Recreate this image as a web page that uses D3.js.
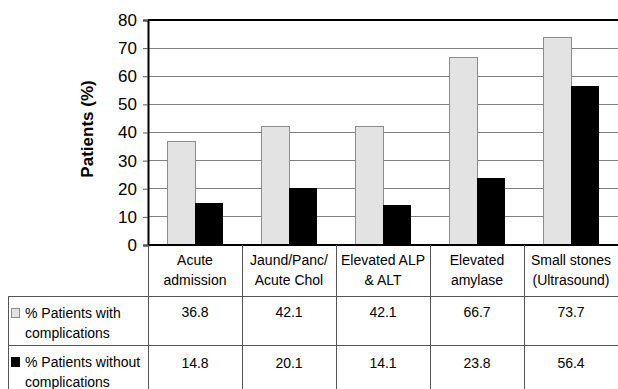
<!DOCTYPE html>
<html>
<head>
<meta charset="utf-8">
<script src="https://cdn.jsdelivr.net/npm/d3@7/dist/d3.min.js"></script>
<style>
  html, body { margin: 0; padding: 0; background: #fff; }
  svg { display: block; font-family: "Liberation Sans", Arial, sans-serif; }
</style>
</head>
<body>
<svg id="chart" width="618" height="389"></svg>
<script>
// Category labels (two lines each)
const categories = [
  ["Acute", "admission"],
  ["Jaund/Panc/", "Acute Chol"],
  ["Elevated ALP", "& ALT"],
  ["Elevated", "amylase"],
  ["Small stones", "(Ultrasound)"]
];
const seriesNames = [
  ["% Patients with", "complications"],
  ["% Patients without", "complications"]
];
const withComplications = [36.8, 42.1, 42.1, 66.7, 73.7];
const withoutComplications = [14.8, 20.1, 14.1, 23.8, 56.4];
const yTicks = [0, 10, 20, 30, 40, 50, 60, 70, 80];
const seriesColors = ["#e3e3e3", "#000000"];
const seriesStroke = ["#8c8c8c", "#000000"];

const svg = d3.select("#chart");
const W = 618, H = 389;
const plot = { left: 148, right: 618, top: 20, bottom: 245 };
const rows = [245, 296, 345, 389];
const tableLeft = 8;

const catKeys = categories.map((c, i) => i);
const x0 = d3.scaleBand().domain(catKeys).range([plot.left, plot.right]).paddingInner(0).paddingOuter(0);
const x1 = d3.scaleBand().domain([0, 1]).range([0, x0.bandwidth()]).paddingInner(0).paddingOuter(0.68);
const y = d3.scaleLinear().domain([0, 80]).range([plot.bottom, plot.top]);

// Gridlines
svg.append("g")
  .selectAll("line")
  .data(yTicks.filter(t => t > 0 && t < 80))
  .join("line")
  .attr("x1", plot.left).attr("x2", plot.right)
  .attr("y1", d => y(d)).attr("y2", d => y(d))
  .attr("stroke", "#808080").attr("stroke-width", 1)
  .attr("shape-rendering", "crispEdges");

// Bars
const data = [withComplications, withoutComplications];
const groups = svg.append("g").selectAll("g")
  .data(catKeys)
  .join("g")
  .attr("transform", d => `translate(${x0(d)},0)`);
groups.selectAll("rect")
  .data(i => data.map((s, k) => ({ k, v: s[i] })))
  .join("rect")
  .attr("x", d => x1(d.k))
  .attr("width", x1.bandwidth())
  .attr("y", d => y(d.v))
  .attr("height", d => y(0) - y(d.v))
  .attr("fill", d => seriesColors[d.k])
  .attr("stroke", d => seriesStroke[d.k])
  .attr("stroke-width", 1)
  .attr("shape-rendering", "crispEdges");

// Plot frame: top and bottom borders
svg.append("line").attr("x1", plot.left).attr("x2", plot.right)
  .attr("y1", plot.top).attr("y2", plot.top)
  .attr("stroke", "#000").attr("stroke-width", 2);
svg.append("line").attr("x1", plot.left).attr("x2", plot.right)
  .attr("y1", plot.bottom).attr("y2", plot.bottom)
  .attr("stroke", "#000").attr("stroke-width", 2);

// Y axis
const yAxis = d3.axisLeft(y).tickValues(yTicks).tickSize(5).tickPadding(6);
const ya = svg.append("g").attr("transform", `translate(${plot.left},0)`).call(yAxis);
ya.select(".domain").attr("stroke", "#000").attr("stroke-width", 2);
ya.selectAll(".tick line").attr("stroke", "#555");
ya.selectAll(".tick text")
  .attr("font-size", 17).attr("fill", "#000")
  .attr("font-family", "Liberation Sans, Arial, sans-serif");

// Y axis title
svg.append("text")
  .attr("transform", "translate(93,129) rotate(-90)")
  .attr("text-anchor", "middle")
  .attr("font-size", 17).attr("font-weight", "bold")
  .text("Patients (%)");

// Data table lines
const tbl = svg.append("g").attr("stroke", "#555").attr("stroke-width", 1)
  .attr("shape-rendering", "crispEdges");
// vertical column separators
catKeys.forEach(i => {
  tbl.append("line")
    .attr("x1", x0(i) + 0.5).attr("x2", x0(i) + 0.5)
    .attr("y1", plot.bottom).attr("y2", H);
});
tbl.append("line").attr("x1", tableLeft + 0.5).attr("x2", tableLeft + 0.5)
  .attr("y1", rows[1]).attr("y2", H);
[rows[1], rows[2]].forEach(r => {
  tbl.append("line").attr("x1", tableLeft).attr("x2", W)
    .attr("y1", r + 0.5).attr("y2", r + 0.5);
});

// Category header cells
const hdr = svg.append("g").attr("font-size", 14).attr("text-anchor", "middle").attr("fill", "#000");
categories.forEach((c, i) => {
  const cx = x0(i) + x0.bandwidth() / 2;
  c.forEach((line, j) => {
    hdr.append("text").attr("x", cx).attr("y", 265 + j * 20).text(line);
  });
});

// Value cells
const rowTextY = [317, 368];
data.forEach((s, k) => {
  s.forEach((v, i) => {
    hdr.append("text")
      .attr("x", x0(i) + x0.bandwidth() / 2)
      .attr("y", rowTextY[k])
      .text(v.toFixed(1));
  });
});

// Legend cells
seriesNames.forEach((lines, k) => {
  const top = rows[k + 1];
  svg.append("rect")
    .attr("x", 11.5).attr("y", top + 12.5)
    .attr("width", 8).attr("height", 9)
    .attr("fill", seriesColors[k]).attr("stroke", seriesStroke[k]);
  lines.forEach((line, j) => {
    svg.append("text")
      .attr("x", 25).attr("y", top + 22 + j * 20)
      .attr("font-size", 14).attr("fill", "#000")
      .text(line);
  });
});
</script>
</body>
</html>
